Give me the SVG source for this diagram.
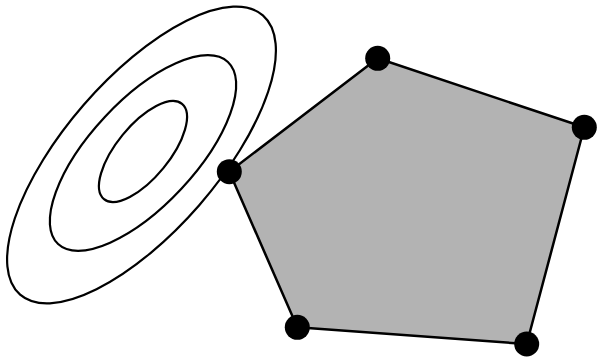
<svg xmlns="http://www.w3.org/2000/svg" width="598" height="358" viewBox="0 0 598 358">
<style>
.c{fill:none;stroke:#000;stroke-width:2.2}
.p{fill:#b3b3b3;stroke:#000;stroke-width:2.5;stroke-linejoin:round}
.d{fill:#000}
</style>
<rect width="598" height="358" fill="#fff"/>
<g id="contours">
<ellipse class="c" cx="141.5" cy="155" rx="185" ry="76.5" transform="rotate(-49 141.5 155)"/>
<ellipse class="c" cx="143" cy="153" rx="124.5" ry="52.5" transform="rotate(-47 143 153)"/>
<ellipse class="c" cx="143" cy="151.5" rx="61.6" ry="26.3" transform="rotate(-50.7 143 151.5)"/>
</g>
<g id="polygon">
<polygon class="p" points="377.7,58.3 584.3,127.3 526.7,344 297.3,327.3 229.3,171.7"/>
</g>
<g id="v1"><circle class="d" cx="377.7" cy="58.3" r="12.5"/></g>
<g id="v2"><circle class="d" cx="584.3" cy="127.3" r="12.5"/></g>
<g id="v3"><circle class="d" cx="526.7" cy="344" r="12.5"/></g>
<g id="v4"><circle class="d" cx="297.3" cy="327.3" r="12.5"/></g>
<g id="v5"><circle class="d" cx="229.3" cy="171.7" r="12.5"/></g>
</svg>
